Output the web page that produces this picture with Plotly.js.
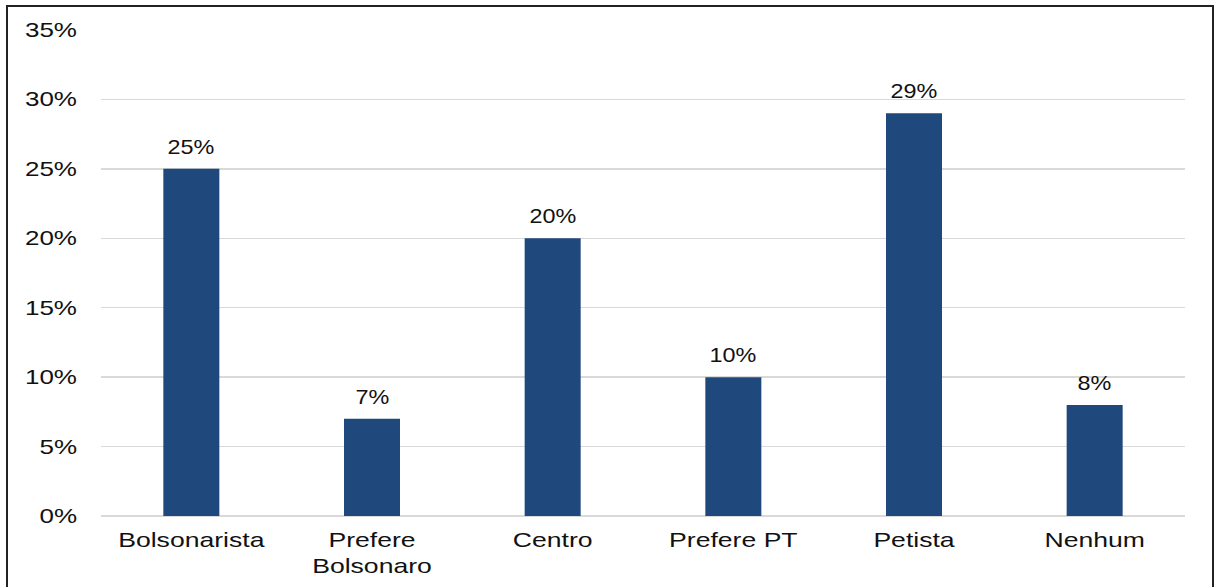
<!DOCTYPE html>
<html>
<head>
<meta charset="utf-8">
<script src="https://cdn.plot.ly/plotly-3.0.1.min.js"></script>
<style>
html,body{margin:0;padding:0;background:#fff;overflow:hidden;}
#chart{width:1214px;height:587px;}
#frame{position:absolute;left:6px;top:5px;width:1204px;height:620px;border:2px solid #222;pointer-events:none;}
</style>
</head>
<body>
<div id="chart"></div>
<div id="frame"></div>
<script>
const categories = ["Bolsonarista", "Prefere<br>Bolsonaro", "Centro", "Prefere PT", "Petista", "Nenhum"];
const values = [25, 7, 20, 10, 29, 8];
const tickVals = [0, 5, 10, 15, 20, 25, 30, 35];
const tickText = ["0%", "5%", "10%", "15%", "20%", "25%", "30%", "35%"];

const font = {family: "Liberation Sans, Arial, sans-serif", size: 20, color: "#111"};

const trace = {
  type: "bar",
  x: categories,
  y: values,
  marker: {color: "#1F497D"},
  hoverinfo: "skip"
};

const annotations = categories.map((c, i) => ({
  x: c, y: values[i], text: values[i] + "%",
  xref: "x", yref: "y", showarrow: false,
  yanchor: "bottom", yshift: 9,
  font: font
}));

const layout = {
  width: 1214, height: 587,
  margin: {l: 101, r: 29, t: 30, b: 71},
  paper_bgcolor: "#fff", plot_bgcolor: "#fff",
  bargap: 0.69,
  showlegend: false,
  font: font,
  xaxis: {
    type: "category",
    showgrid: false, showline: false, zeroline: false,
    ticks: "", tickfont: font, ticklabelstandoff: 10
  },
  yaxis: {
    range: [0, 35],
    tickvals: tickVals, ticktext: tickText,
    showgrid: true, gridcolor: "#d9d9d9", gridwidth: 1.5,
    zeroline: true, zerolinecolor: "#d9d9d9", zerolinewidth: 1.5,
    showline: false, ticks: "", ticklabelstandoff: 23,
    tickfont: font
  },
  annotations: annotations
};

// widen glyphs horizontally (the reference text is stretched), pivoting on each text's anchor x
function stretch(selector, sx) {
  document.querySelectorAll(selector).forEach(t => {
    const ax = parseFloat(t.getAttribute("x")) || 0;
    const prev = t.getAttribute("transform") || "";
    t.setAttribute("transform", prev + " translate(" + ax + ",0) scale(" + sx + ",1) translate(" + (-ax) + ",0)");
  });
}

Plotly.newPlot("chart", [trace], layout, {displayModeBar: false, staticPlot: true}).then(() => {
  stretch(".xtick text", 1.33);
  stretch(".ytick text", 1.3);
  stretch(".annotation-text", 1.17);
});
</script>
</body>
</html>
